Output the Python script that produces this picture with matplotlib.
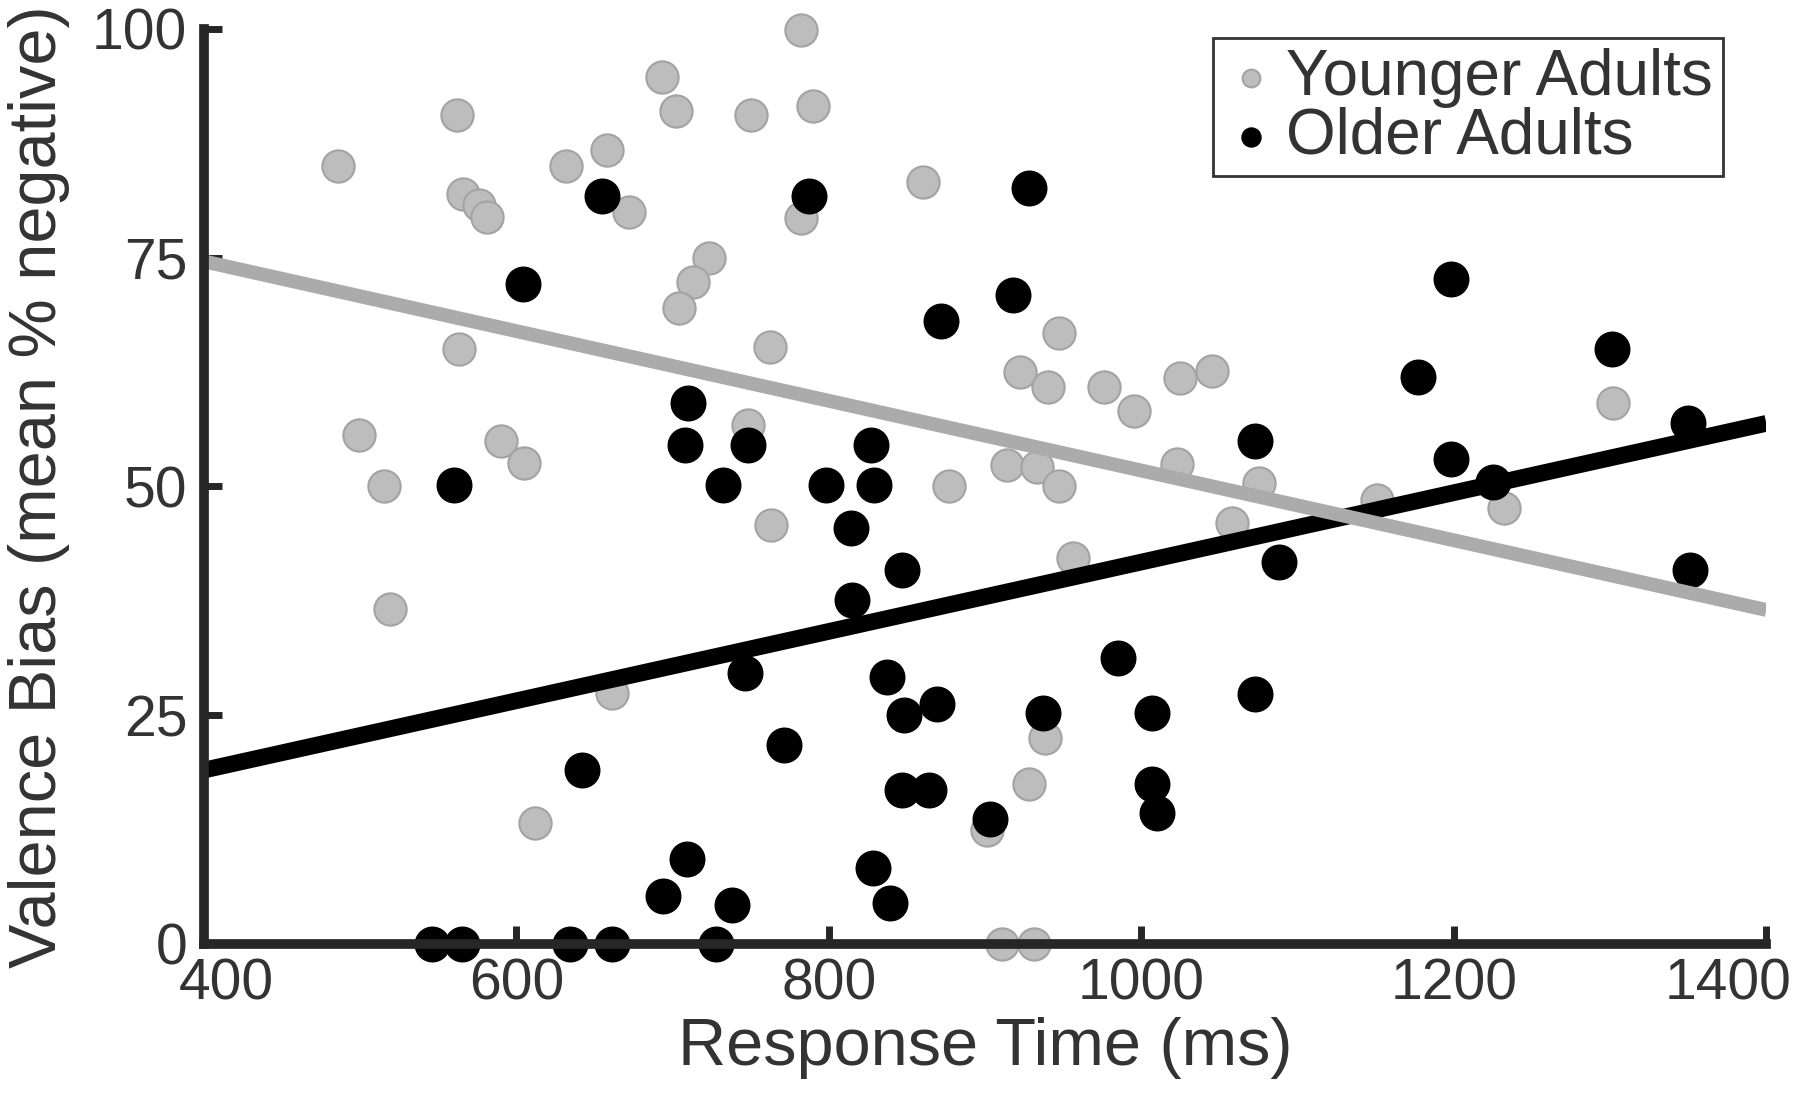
import numpy as np
import matplotlib
matplotlib.use("Agg")
import matplotlib.pyplot as plt
from matplotlib.transforms import ScaledTranslation

plt.rcParams['font.family'] = ['Liberation Sans', 'DejaVu Sans']

# younger adults (grey)
young_rt = [486, 562, 566, 576, 581, 563, 499, 515, 519, 590, 605, 632, 658, 672,
            693, 702, 723, 713, 704, 750, 782, 790, 782, 762, 748, 763, 661, 612,
            860, 877, 922, 940, 947, 914, 933, 947, 956, 976, 995, 1025, 1045, 1023,
            1058, 1075, 1151, 1232, 1302, 901, 928, 938, 911, 931]
young_bias = [85, 90.6, 82, 80.8, 79.5, 65, 55.6, 50, 36.6, 55, 52.6, 85, 86.8, 80,
              94.7, 91, 75, 72.4, 69.5, 90.6, 99.9, 91.6, 79.3, 65.2, 56.7, 45.8, 27.4, 13.2,
              83.3, 50, 62.5, 60.9, 66.8, 52.4, 52.1, 50.1, 42.2, 60.9, 58.3, 61.9, 62.6, 52.5,
              46, 50.4, 48.5, 47.6, 59.1, 12.5, 17.5, 22.5, 0, 0]

# older adults (black)
old_rt = [560, 604, 655, 642, 546, 565, 634, 661, 728, 694, 709, 738,
          710, 708, 732, 748, 746, 771, 787,
          798, 814, 815, 827, 829, 828, 839, 837, 847, 848, 847, 864, 869, 872,
          903, 918, 928, 937, 985, 1007, 1007, 1010,
          1073, 1088, 1073, 1177, 1198, 1198, 1225, 1301, 1350, 1351]
old_bias = [50.2, 72.1, 81.7, 19, 0, 0, 0, 0, 0, 5.2, 9.3, 4.3,
            59.1, 54.5, 50.2, 54.5, 29.6, 21.7, 81.8,
            50.2, 45.5, 37.6, 54.5, 50.2, 8.3, 4.5, 29.2, 40.9, 25, 16.8, 16.8, 26.2, 68.1,
            13.7, 70.9, 82.6, 25.2, 31.3, 25.2, 17.5, 14.3,
            55, 41.7, 27.3, 62, 72.7, 53, 50.5, 65, 56.9, 40.9]

# fitted lines
fit_x = [400, 1400]
young_fit = [74.6, 36.5]
old_fit = [19.0, 56.9]

fig = plt.figure(figsize=(18, 10.98), dpi=100)
ax = fig.add_axes([0.1133, 0.1403, 0.868, 0.8333])

ax.scatter(young_rt, young_bias, s=540, c='#bdbdbd', edgecolors='#a3a3a3',
           linewidths=1.5, zorder=2, label='Younger Adults', clip_on=False)
ax.scatter(old_rt, old_bias, s=620, c='black', edgecolors='black',
           linewidths=1, zorder=3, label='Older Adults', clip_on=False)
ax.plot(fit_x, old_fit, color='black', lw=12, zorder=4, solid_capstyle='butt')
ax.plot(fit_x, young_fit, color='#ababab', lw=10, zorder=5, solid_capstyle='butt')

ax.set_xlim(400, 1400)
ax.set_ylim(0, 100)
ax.set_xticks([400, 600, 800, 1000, 1200, 1400])
ax.set_yticks([0, 25, 50, 75, 100])

for side in ['top', 'right']:
    ax.spines[side].set_visible(False)
for side in ['left', 'bottom']:
    ax.spines[side].set_linewidth(7)
    ax.spines[side].set_color('#262626')
    ax.spines[side].set_zorder(6)

ax.tick_params(direction='in', length=13, width=5, color='#262626',
               labelsize=41, labelcolor='#333333')
ax.tick_params(axis='x', pad=10)
ax.tick_params(axis='y', pad=12)

# edge labels pulled inward, as in the original
xlabels = ax.get_xticklabels()
xlabels[0].set_transform(xlabels[0].get_transform() + ScaledTranslation(0.22, 0, fig.dpi_scale_trans))
xlabels[-1].set_transform(xlabels[-1].get_transform() + ScaledTranslation(-0.38, 0, fig.dpi_scale_trans))

ax.set_xlabel('Response Time (ms)', fontsize=48, color='#333333', labelpad=4)
ax.set_ylabel('Valence Bias (mean % negative)', fontsize=48, color='#333333', labelpad=16)

leg = ax.legend(loc='upper right', bbox_to_anchor=(0.972, 0.99), borderaxespad=0,
                fontsize=46, markerscale=0.55, handletextpad=0.1, handlelength=0.9,
                labelspacing=-0.02, borderpad=0.15, fancybox=False, framealpha=1,
                edgecolor='#333333')
leg.get_frame().set_linewidth(2)
for t in leg.get_texts():
    t.set_color('#333333')

fig.savefig('out.png', dpi=100)
